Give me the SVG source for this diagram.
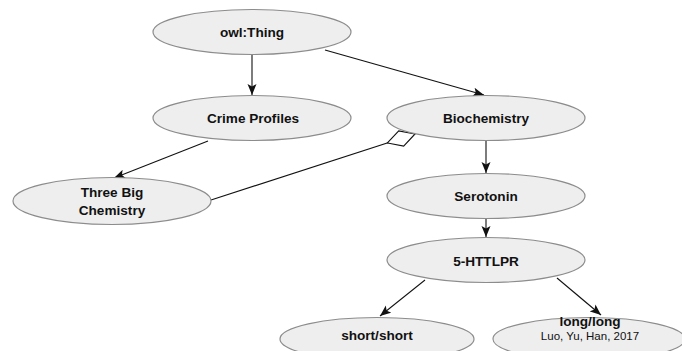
<svg xmlns="http://www.w3.org/2000/svg" width="682" height="351" viewBox="0 0 682 351">
<style>
.n{fill:#eeeeee;stroke:#8c8c8c;stroke-width:1.2}
.t{font-family:"Liberation Sans",Arial,sans-serif;font-size:13.6px;font-weight:bold;fill:#111;text-anchor:middle}
.s{font-family:"Liberation Sans",Arial,sans-serif;font-size:11.5px;fill:#111;text-anchor:middle}
.e{stroke:#111;stroke-width:1.1;fill:none}
</style>
<defs>
<marker id="arr" markerUnits="userSpaceOnUse" markerWidth="12" markerHeight="10" viewBox="0 0 12 10" refX="11" refY="5" orient="auto">
<path d="M0,0.5 L11,5 L0,9.5 L2.5,5 Z" fill="#111"/>
</marker>
<marker id="dia" markerUnits="userSpaceOnUse" markerWidth="32" markerHeight="20" viewBox="0 -10 32 20" refX="30" refY="0" orient="auto">
<path d="M1,0 L15.5,-8 L30,0 L15.5,8 Z" fill="#fff" stroke="#111" stroke-width="1.1"/>
</marker>
</defs>
<rect width="682" height="351" fill="#fff"/>
<g id="connectors">
<line class="e" x1="252" y1="55" x2="252" y2="95" marker-end="url(#arr)"/>
<line class="e" x1="325" y1="50" x2="484" y2="95" marker-end="url(#arr)"/>
<line class="e" x1="208" y1="141" x2="114" y2="178" marker-end="url(#arr)"/>
<line class="e" x1="211" y1="200" x2="415" y2="134" marker-end="url(#dia)"/>
<line class="e" x1="486" y1="141" x2="486" y2="173" marker-end="url(#arr)"/>
<line class="e" x1="486" y1="219" x2="486" y2="237" marker-end="url(#arr)"/>
<line class="e" x1="425" y1="280" x2="380" y2="316" marker-end="url(#arr)"/>
<line class="e" x1="557" y1="278" x2="601" y2="315" marker-end="url(#arr)"/>
</g>
<g id="owl-thing"><ellipse class="n" cx="252" cy="32" rx="99" ry="22.5"/><text class="t" x="252" y="37">owl:Thing</text></g>
<g id="crime-profiles"><ellipse class="n" cx="252" cy="118" rx="99" ry="22.5"/><text class="t" x="253" y="123">Crime Profiles</text></g>
<g id="biochemistry"><ellipse class="n" cx="486" cy="118" rx="99" ry="22.5"/><text class="t" x="486" y="123">Biochemistry</text></g>
<g id="three-big-chemistry"><ellipse class="n" cx="112" cy="201" rx="99" ry="23.5"/><text class="t" x="112" y="197">Three Big</text><text class="t" x="112" y="215">Chemistry</text></g>
<g id="serotonin"><ellipse class="n" cx="486" cy="196" rx="99" ry="22.5"/><text class="t" x="486" y="201">Serotonin</text></g>
<g id="httlpr"><ellipse class="n" cx="486" cy="260" rx="99" ry="22.5"/><text class="t" x="486" y="266">5-HTTLPR</text></g>
<g id="short-short"><ellipse class="n" cx="377" cy="339" rx="97" ry="21.5"/><text class="t" x="377" y="340">short/short</text></g>
<g id="long-long"><ellipse class="n" cx="589" cy="339" rx="96" ry="21.5"/><text class="t" x="590" y="326">long/long</text><text class="s" x="590" y="340">Luo, Yu, Han, 2017</text></g>
</svg>
